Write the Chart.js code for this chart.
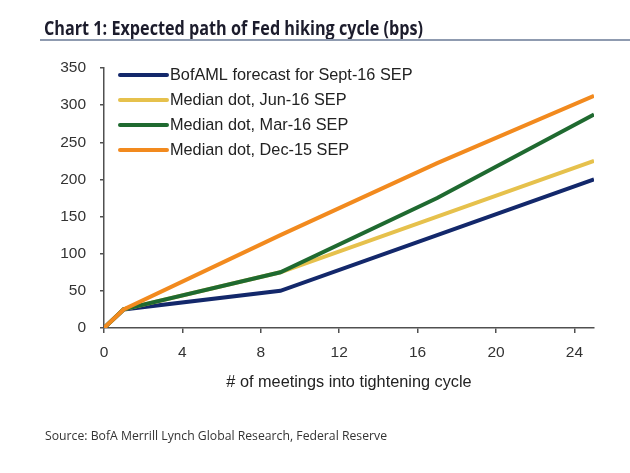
<!DOCTYPE html>
<html>
<head>
<meta charset="utf-8">
<script src="https://cdn.jsdelivr.net/npm/chart.js@4.4.1/dist/chart.umd.min.js"></script>
<style>
  html, body { margin: 0; padding: 0; background: #fff; }
  #wrap { position: relative; width: 630px; height: 473px; overflow: hidden; }
  #chartBox { position: absolute; left: 0; top: 0; width: 630px; height: 473px; }
  .fit { position: absolute; white-space: nowrap; transform-origin: left center; }
  #title { left: 44px; top: 15px; font: bold 19px "Open Sans", sans-serif; color: #1c1c2c; }
  #rule { position: absolute; left: 40px; top: 39px; width: 590px; height: 2px; background: #8f9bb0; }
  #source { left: 45px; top: 426px; font: 13px "Open Sans", sans-serif; color: #333; }
</style>
</head>
<body>
<div id="wrap">
  <div id="chartBox"><canvas id="c"></canvas></div>
  <div id="title" class="fit" data-w="379">Chart 1: Expected path of Fed hiking cycle (bps)</div>
  <div id="rule"></div>
  <div id="source" class="fit" data-w="342">Source: BofA Merrill Lynch Global Research, Federal Reserve</div>
</div>
<script>
// Meetings into the cycle where each path changes slope
const MEETINGS = [0, 1, 9, 17, 25];

const BOFAML  = [0, 25, 50, 125, 200];
const JUN16   = [0, 25, 75, 150, 225];
const MAR16   = [0, 25, 75, 175, 287.5];
const DEC15   = [0, 25, 125, 222, 312.5];

const LABELS = [
  "BofAML forecast for Sept-16 SEP",
  "Median dot, Jun-16 SEP",
  "Median dot, Mar-16 SEP",
  "Median dot, Dec-15 SEP",
];

const X_TICKS = [0, 4, 8, 12, 16, 20, 24];
const Y_TICKS = [0, 50, 100, 150, 200, 250, 300, 350];

const C = {
  navy:   "#13286b",
  yellow: "#e6c14c",
  green:  "#1f6a30",
  orange: "#f28a1e",
  axis:   "#505050",
  text:   "#333333",
};

// squeeze the html texts to the widths of the original (calibri-ish) lettering
document.querySelectorAll(".fit").forEach((el) => {
  const w = el.getBoundingClientRect().width;
  el.style.transform = `scaleX(${Number(el.dataset.w) / w})`;
});

function pts(ys) {
  return MEETINGS.map((x, i) => ({ x, y: ys[i] }));
}

function series(label, ys, color, order) {
  return {
    label,
    data: pts(ys),
    borderColor: color,
    backgroundColor: color,
    borderWidth: 4,
    pointRadius: 0,
    tension: 0,
    order,
  };
}

// legend inside the plot area, top-left
const insideLegend = {
  id: "insideLegend",
  afterDatasetsDraw(chart) {
    const ctx = chart.ctx;
    const x0 = 120, y0 = 75, step = 25;
    ctx.save();
    ctx.font = "16.3px 'Liberation Sans', Arial, sans-serif";
    ctx.textBaseline = "middle";
    chart.data.datasets.forEach((ds, i) => {
      const y = y0 + i * step;
      ctx.strokeStyle = ds.borderColor;
      ctx.lineWidth = 4;
      ctx.lineCap = "round";
      ctx.beginPath();
      ctx.moveTo(x0, y);
      ctx.lineTo(x0 + 47, y);
      ctx.stroke();
      ctx.fillStyle = "#222";
      ctx.fillText(ds.label, x0 + 50, y + 1);
    });
    ctx.restore();
  },
};

const tickFont = { family: "'Liberation Sans', Arial, sans-serif", size: 15.5 };

new Chart(document.getElementById("c"), {
  type: "line",
  data: {
    datasets: [
      series(LABELS[0], BOFAML, C.navy, 4),
      series(LABELS[1], JUN16, C.yellow, 3),
      series(LABELS[2], MAR16, C.green, 2),
      series(LABELS[3], DEC15, C.orange, 1),
    ],
  },
  options: {
    responsive: true,
    maintainAspectRatio: false,
    animation: false,
    layout: { padding: { left: 44, right: 36, top: 68, bottom: 81 } },
    plugins: { legend: { display: false }, tooltip: { enabled: false } },
    scales: {
      x: {
        type: "linear",
        min: 0,
        max: 25,
        afterBuildTicks: (s) => { s.ticks = X_TICKS.map((v) => ({ value: v })); },
        afterFit: (s) => { s.height = 64; },
        ticks: { font: tickFont, color: C.text, padding: 10, maxRotation: 0 },
        grid: { drawOnChartArea: false, drawTicks: true, tickLength: 5, color: C.axis, lineWidth: 1.5 },
        border: { display: true, color: C.axis, width: 1.5 },
        title: {
          display: true,
          text: "# of meetings into tightening cycle",
          font: { family: "'Liberation Sans', Arial, sans-serif", size: 16.3 },
          color: "#222",
          padding: 0,
        },
      },
      y: {
        min: 0,
        max: 350,
        afterBuildTicks: (s) => { s.ticks = Y_TICKS.map((v) => ({ value: v })); },
        afterFit: (s) => { s.width = 60; },
        ticks: { font: tickFont, color: C.text, padding: 14 },
        grid: { drawOnChartArea: false, drawTicks: true, tickLength: 4, color: C.axis, lineWidth: 1.5 },
        border: { display: true, color: C.axis, width: 1.5 },
      },
    },
  },
  plugins: [insideLegend],
});
</script>
</body>
</html>
